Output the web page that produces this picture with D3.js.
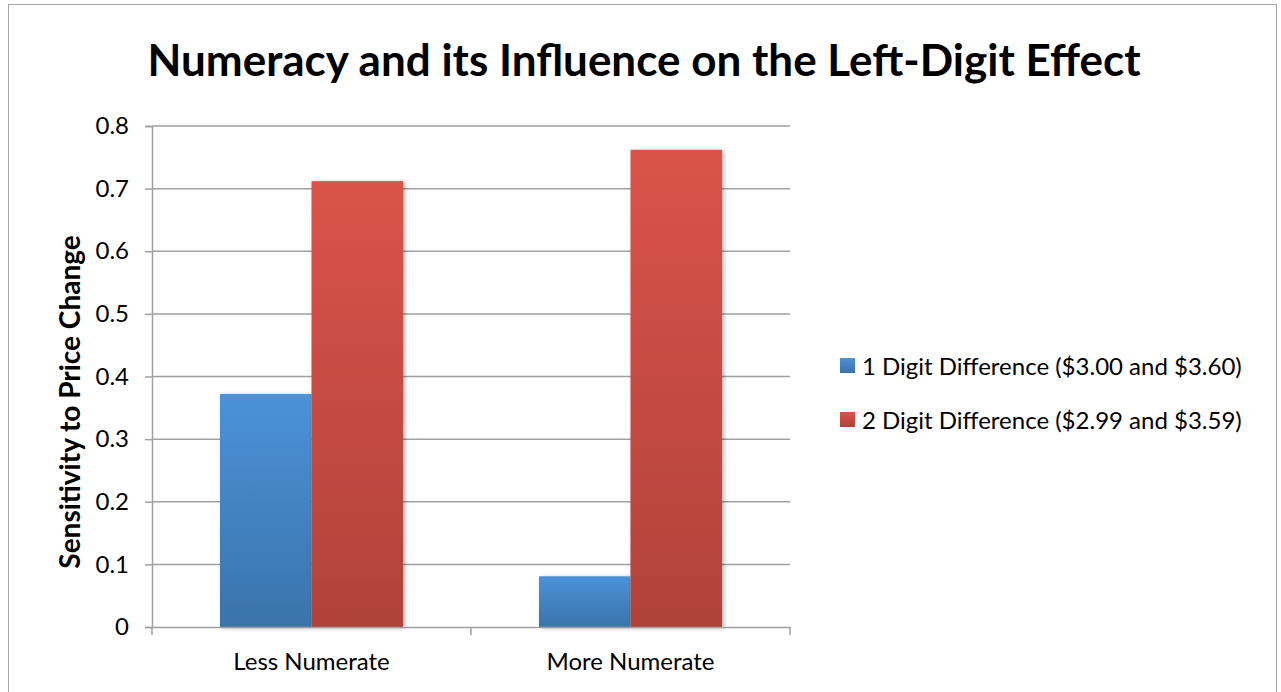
<!DOCTYPE html>
<html>
<head>
<title>Numeracy and the Left-Digit Effect</title>
<script src="https://d3js.org/d3.v7.min.js"></script>
<style>
body { margin: 0; background: #fff; }
text { font-family: Lato, "Open Sans", sans-serif; fill: #000; }
</style>
</head>
<body>
<script>

var categories = ["Less Numerate", "More Numerate"];
var seriesNames = ["1 Digit Difference ($3.00 and $3.60)", "2 Digit Difference ($2.99 and $3.59)"];
var oneDigit = [0.372, 0.081];
var twoDigit = [0.712, 0.762];
var yTicks = [0, 0.1, 0.2, 0.3, 0.4, 0.5, 0.6, 0.7, 0.8];

var W = 1281, H = 692;
// note: "top" is a reserved window property, so plot edges get their own names
var plotLeft = 152, plotRight = 790, plotTop = 126, plotBottom = 627;

var svg = d3.select("body").append("svg")
	.attr("width", W)
	.attr("height", H);

// outer frame
svg.append("rect")
	.attr("x", 8.5).attr("y", 4.5)
	.attr("width", 1268).attr("height", 700)
	.attr("fill", "none")
	.attr("stroke", "#a6a6a6");

var defs = svg.append("defs");
var grads = [["blueGrad", "#4b92d8", "#3a73ab"], ["redGrad", "#da534a", "#b0423a"]];
grads.forEach(function(g){
	var lg = defs.append("linearGradient").attr("id", g[0])
		.attr("x1", 0).attr("y1", 0).attr("x2", 0).attr("y2", 1);
	lg.append("stop").attr("offset", "0%").attr("stop-color", g[1]);
	lg.append("stop").attr("offset", "100%").attr("stop-color", g[2]);
});
var f = defs.append("filter").attr("id", "shadow")
	.attr("x", "-20%").attr("y", "-20%").attr("width", "150%").attr("height", "150%");
f.append("feDropShadow").attr("dx", 2).attr("dy", 1).attr("stdDeviation", 2)
	.attr("flood-color", "#000").attr("flood-opacity", 0.3);

var x = d3.scaleBand().domain(categories).range([plotLeft, plotRight]).padding(0);
var gap = 68;
var xs = d3.scaleBand().domain([0, 1]).range([gap, x.bandwidth() - gap]).padding(0);
var y = d3.scaleLinear().domain([0, 0.8]).range([plotBottom, plotTop]);

// gridlines
svg.append("g").selectAll("line")
	.data(yTicks.slice(1))
	.enter().append("line")
	.attr("x1", plotLeft).attr("x2", plotRight)
	.attr("y1", function(d){ return y(d); })
	.attr("y2", function(d){ return y(d); })
	.attr("stroke", "#a0a0a0")
	.attr("stroke-width", 1.5);

// y axis
var yAxis = d3.axisLeft(y).tickValues(yTicks).tickSize(7).tickPadding(16)
	.tickFormat(function(d){ return d === 0 ? "0" : d3.format(".1f")(d); });
var yg = svg.append("g").attr("transform", "translate(" + plotLeft + ",0)").call(yAxis);
yg.select(".domain").attr("stroke", "#a0a0a0").attr("stroke-width", 1.5);
yg.selectAll(".tick line").attr("stroke", "#a0a0a0").attr("stroke-width", 1.5);
yg.selectAll(".tick text").style("font-size", "24px").style("font-family", "Lato, sans-serif").attr("fill", "#000");

// bars
var rows = categories.map(function(c, i){ return [oneDigit[i], twoDigit[i]]; });
var groups = svg.append("g").selectAll("g")
	.data(rows)
	.enter().append("g")
	.attr("transform", function(d, i){ return "translate(" + x(categories[i]) + ",0)"; });
groups.selectAll("rect")
	.data(function(d){ return d; })
	.enter().append("rect")
	.attr("x", function(d, j){ return xs(j); })
	.attr("y", function(d){ return y(d); })
	.attr("width", xs.bandwidth())
	.attr("height", function(d){ return plotBottom - y(d); })
	.attr("fill", function(d, j){ return j === 0 ? "url(#blueGrad)" : "url(#redGrad)"; })
	.attr("filter", "url(#shadow)");

// x axis
var xAxis = d3.axisBottom(x).tickSize(0).tickPadding(26);
var xg = svg.append("g").attr("transform", "translate(0," + plotBottom + ")").call(xAxis);
xg.select(".domain").attr("stroke", "#a0a0a0").attr("stroke-width", 1.5);
xg.selectAll(".tick text").style("font-size", "24px").style("font-family", "Lato, sans-serif").attr("fill", "#000");
xg.selectAll("line.sep")
	.data([plotLeft, plotLeft + x.bandwidth(), plotRight])
	.enter().append("line").attr("class", "sep")
	.attr("x1", function(d){ return d; }).attr("x2", function(d){ return d; })
	.attr("y1", 0).attr("y2", 8)
	.attr("stroke", "#a0a0a0").attr("stroke-width", 1.5);

// title
svg.append("text")
	.attr("x", 644).attr("y", 76)
	.attr("text-anchor", "middle")
	.style("font-size", "44px").style("font-weight", "bold")
	.text("Numeracy and its Influence on the Left-Digit Effect");

// y axis title
svg.append("text")
	.attr("transform", "translate(80,402) rotate(-90)")
	.attr("text-anchor", "middle")
	.style("font-size", "28px").style("font-weight", "bold")
	.text("Sensitivity to Price Change");

// legend
var legend = svg.append("g").selectAll("g")
	.data(seriesNames)
	.enter().append("g")
	.attr("transform", function(d, i){ return "translate(840," + (358 + i * 54) + ")"; });
legend.append("rect")
	.attr("width", 15).attr("height", 15)
	.attr("fill", function(d, i){ return i === 0 ? "url(#blueGrad)" : "url(#redGrad)"; });
legend.append("text")
	.attr("x", 22).attr("y", 17)
	.style("font-size", "24px")
	.text(function(d){ return d; });

</script>
</body>
</html>
